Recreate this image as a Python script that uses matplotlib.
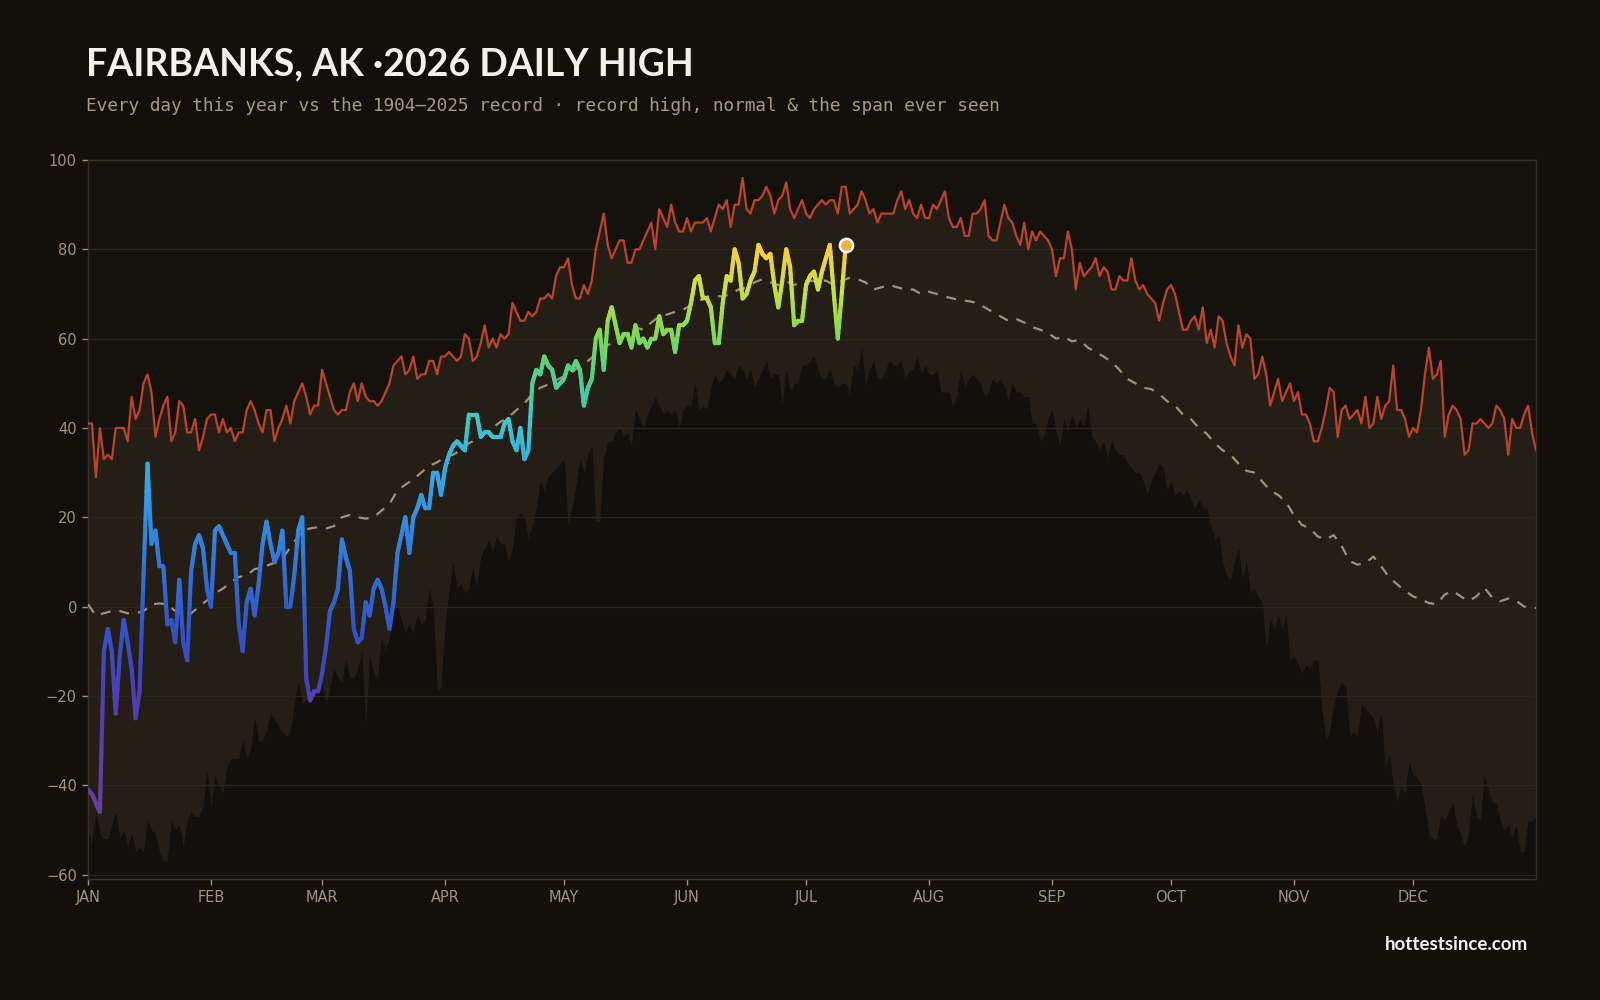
import matplotlib
matplotlib.use("Agg")
import matplotlib.pyplot as plt
import numpy as np
from matplotlib.collections import LineCollection
from matplotlib.colors import LinearSegmentedColormap, Normalize

# ---------------- DATA ----------------
month_days = [0, 31, 59, 90, 120, 151, 181, 212, 243, 273, 304, 334]
month_labels = ["JAN", "FEB", "MAR", "APR", "MAY", "JUN", "JUL", "AUG", "SEP", "OCT", "NOV", "DEC"]

# record high, day 0..365
rec_high = [
    41, 41, 29, 40, 33, 34, 33, 40, 40, 40,
    37, 47, 42, 44, 50, 52, 48, 38, 42, 45,
    47, 37, 39, 46, 45, 39, 39, 42, 35, 38,
    42, 43, 43, 39, 42, 39, 40, 37, 39, 39,
    44, 46, 44, 41, 39, 44, 44, 37, 40, 42,
    45, 41, 46, 48, 50, 47, 43, 45, 45, 53,
    50, 47, 44, 43, 44, 44, 48, 50, 46, 50,
    47, 46, 46, 45, 46, 48, 50, 54, 55, 56,
    52, 53, 56, 51, 52, 52, 55, 55, 52, 56,
    56, 57, 56, 55, 56, 61, 60, 55, 56, 59,
    63, 58, 60, 58, 61, 60, 61, 68, 66, 64,
    64, 66, 65, 66, 69, 69, 70, 69, 74, 76,
    76, 78, 72, 69, 69, 72, 70, 73, 80, 84,
    88, 81, 78, 80, 82, 82, 77, 77, 80, 80,
    82, 84, 86, 80, 89, 87, 85, 90, 86, 84,
    84, 87, 84, 86, 86, 86, 87, 84, 87, 90,
    89, 91, 85, 90, 90, 96, 89, 88, 91, 91,
    92, 94, 92, 88, 91, 92, 95, 89, 87, 89,
    91, 88, 87, 89, 90, 91, 90, 91, 91, 88,
    94, 94, 88, 89, 90, 93, 91, 88, 89, 86,
    88, 88, 88, 88, 91, 93, 89, 91, 88, 87,
    90, 87, 87, 90, 89, 91, 93, 87, 85, 85,
    87, 83, 83, 88, 88, 89, 91, 83, 82, 82,
    86, 90, 87, 86, 83, 81, 86, 80, 84, 82,
    84, 83, 82, 80, 74, 78, 78, 84, 80, 71,
    77, 74, 75, 76, 78, 74, 76, 75, 71, 71,
    74, 73, 73, 78, 73, 71, 72, 70, 69, 68,
    64, 68, 71, 72, 70, 66, 62, 62, 64, 65,
    62, 67, 59, 62, 58, 65, 64, 59, 56, 54,
    63, 58, 61, 60, 51, 52, 56, 52, 45, 48,
    51, 46, 48, 50, 46, 48, 43, 43, 41, 37,
    37, 40, 44, 49, 48, 38, 44, 45, 42, 43,
    44, 41, 47, 40, 41, 47, 42, 45, 46, 54,
    44, 44, 42, 38, 40, 39, 44, 52, 58, 51,
    52, 55, 38, 43, 45, 44, 42, 34, 35, 41,
    41, 42, 41, 40, 41, 45, 44, 42, 34, 42,
    40, 40, 43, 45, 39, 35,
]

# record low (the "span ever seen" lower edge), day 0..365
rec_low = [
    -50, -53, -46, -51, -52, -52, -49, -46, -52, -50,
    -54, -51, -55, -54, -55, -48, -50, -51, -55, -57,
    -57, -48, -50, -49, -54, -48, -46, -47, -47, -45,
    -37, -45, -38, -40, -42, -36, -34, -34, -34, -30,
    -34, -32, -25, -30, -30, -28, -24, -25, -27, -28,
    -29, -28, -22, -17, -22, -21, -21, -20, -19, -17,
    -22, -18, -14, -16, -17, -12, -16, -16, -14, -10,
    -27, -11, -15, -16, -7, -10, -7, 0, 0, -3,
    -6, -4, -6, -2, -4, -3, 4, 0, -19, -18,
    -5, 3, 10, 4, 5, 3, 4, 9, 4, 11,
    13, 15, 12, 16, 14, 14, 10, 13, 20, 21,
    20, 15, 18, 22, 28, 26, 29, 30, 31, 32,
    33, 18, 22, 27, 33, 30, 34, 36, 19, 19,
    33, 37, 37, 39, 40, 38, 39, 36, 44, 42,
    40, 43, 45, 47, 45, 43, 44, 43, 44, 40,
    44, 45, 45, 50, 44, 45, 44, 49, 52, 50,
    51, 53, 52, 51, 54, 53, 51, 53, 49, 51,
    53, 55, 51, 52, 52, 45, 53, 48, 50, 50,
    54, 54, 55, 56, 53, 51, 51, 53, 50, 49,
    50, 50, 47, 54, 53, 58, 49, 53, 55, 51,
    51, 53, 55, 54, 54, 55, 51, 53, 53, 56,
    52, 54, 52, 52, 53, 48, 48, 48, 45, 47,
    53, 49, 51, 52, 51, 50, 47, 48, 51, 50,
    51, 49, 46, 50, 48, 48, 47, 47, 41, 41,
    37, 38, 42, 44, 39, 36, 42, 39, 43, 40,
    42, 40, 45, 38, 37, 35, 37, 33, 37, 35,
    34, 34, 32, 31, 30, 30, 28, 25, 28, 30,
    32, 31, 26, 28, 25, 26, 25, 26, 24, 22,
    24, 22, 22, 18, 15, 16, 10, 7, 6, 10,
    13, 6, 10, 3, 4, 2, 1, -10, -3, -5,
    -2, -5, -2, -12, -11, -13, -15, -13, -14, -12,
    -12, -23, -30, -28, -22, -19, -17, -18, -29, -28,
    -29, -22, -23, -24, -25, -28, -24, -37, -33, -40,
    -44, -40, -42, -35, -38, -38, -40, -45, -51, -52,
    -52, -47, -48, -46, -44, -49, -51, -54, -51, -42,
    -47, -48, -38, -41, -44, -44, -48, -50, -49, -52,
    -49, -55, -55, -48, -48, -47,
]

# normal high, read every 2nd day
normal_days = list(range(0, 366, 2)) + [365]
normal_vals = [
    0.5, -2, -1.5, -1, -1, -1.5, -1.5, -1, 0.5, 0.7,
    0.5, -1, -2, -1.5, 0, 1.4, 3, 4, 5.5, 6.6,
    7, 8.4, 8.7, 9.5, 10, 12, 14.5, 17, 17.5, 17.8,
    17.5, 18, 20, 20.5, 20, 19.7, 20, 21.5, 23, 26,
    27.3, 28.5, 30, 31.5, 32.3, 33.5, 34, 35, 36.6, 37.4,
    38.7, 40, 41.4, 42.4, 44, 45.5, 47.6, 49, 49.7, 50.7,
    51.6, 52.4, 54, 55, 56.5, 58, 59, 60, 61, 62.5,
    62, 63.6, 65, 65.4, 66, 66.5, 67.5, 68.4, 69.4, 69.6,
    69.4, 70, 71, 71.5, 72.6, 73.3, 72.6, 72, 72.8, 72,
    72.8, 73, 72.8, 73, 72, 73, 73.6, 73.3, 72.6, 71,
    71.5, 72, 71.5, 71, 71, 70, 70.5, 70, 69.4, 69,
    68.6, 68.4, 68, 67, 66, 65, 64, 64.4, 63.6, 62.6,
    62, 61.3, 60, 60.4, 59.4, 59.7, 58, 57, 56, 54.8,
    53, 51, 50, 49, 48.7, 47.6, 46, 45, 43, 42,
    40, 38.7, 36.6, 35, 34, 32, 30.4, 30, 28, 26,
    25, 23.4, 20.4, 18.3, 17.5, 15.7, 15, 16, 13.6, 10.2,
    9.4, 9.7, 11.2, 9, 6.5, 5, 3.5, 2.3, 1.6, 0.8,
    0.5, 2.7, 3.5, 2.3, 1.2, 2.3, 4.2, 2, 1.2, 1.8,
    1.3, 0, -0.3, -0.3,
]

# 2026 daily high so far, day 0..191
high_2026 = [
    -41, -42, -44, -46, -10, -5, -10, -24, -11, -3,
    -8, -14, -25, -19, 7, 32, 14, 17, 9, 9,
    -4, -3, -8, 6, -8, -12, 8, 14, 16, 13,
    4, 0, 17, 18, 16, 14, 12, 12, -4, -10,
    1, 4, -2, 5, 14, 19, 14, 10, 12, 17,
    0, 0, 7, 17, 20, -16, -21, -19, -19, -15,
    -9, -1, 1, 4, 15, 11, 8, -5, -8, -7,
    1, -2, 4, 6, 4, 0, -5, 1, 12, 16,
    20, 12, 20, 22, 25, 22, 22, 30, 30, 25,
    31, 34, 36, 37, 36, 35, 43, 43, 43, 38,
    39, 39, 38, 38, 38, 41, 42, 37, 35, 40,
    33, 35, 50, 53, 52, 56, 54, 53, 49, 50,
    51, 54, 53, 55, 53, 45, 49, 51, 60, 62,
    53, 64, 67, 63, 59, 61, 61, 58, 63, 59,
    60, 58, 60, 60, 65, 61, 62, 62, 57, 63,
    63, 64, 68, 73, 74, 69, 69, 67, 59, 59,
    68, 74, 73, 80, 77, 69, 70, 73, 75, 81,
    79, 78, 79, 72, 67, 73, 80, 76, 63, 64,
    64, 72, 74, 75, 71, 75, 78, 81, 70, 60,
    70, 81,
]

# ---------------- STYLE ----------------
BG = "#13100c"
AX_BG = "#15120e"
BAND = "#241e16"
BELOW = "#12100d"
HIGH_C = "#bb4429"
NORM_C = "#a09279"
TICK_C = "#a39479"
SPINE_C = "#3a3228"
GRID_C = "#2b251c"

fig = plt.figure(figsize=(16, 10), dpi=100, facecolor=BG)
ax = fig.add_axes([0.055, 0.121, 0.905, 0.719])
ax.set_facecolor(AX_BG)

days = np.arange(len(rec_high))
ax.fill_between(days, rec_low, rec_high, color=BAND, lw=0, zorder=1)
ax.fill_between(days, -61, rec_low, color=BELOW, lw=0, zorder=1)

ax.plot(days, rec_high, color=HIGH_C, lw=1.6, zorder=3)
ax.plot(normal_days, normal_vals, color=NORM_C, lw=1.6, dashes=(4.5, 4), zorder=3)

# 2026 line coloured by temperature
cmap = LinearSegmentedColormap.from_list("temp", [
    (0.00, "#6c3d9e"),
    (0.20, "#4b40b4"),
    (0.31, "#3153c6"),
    (0.43, "#2f78dc"),
    (0.58, "#34a8e8"),
    (0.66, "#3cc5cf"),
    (0.75, "#4fd08a"),
    (0.83, "#8cdb4a"),
    (0.90, "#cde040"),
    (0.96, "#f3cf3f"),
    (1.00, "#f5ad3a"),
])
norm = Normalize(-46, 85)
x26 = np.arange(len(high_2026))
y26 = np.array(high_2026, dtype=float)
segs, cols = [], []
for i in range(len(x26) - 1):
    # split each day-to-day segment so the colour follows the value
    t = np.linspace(0, 1, 9)
    xs = x26[i] + t
    ys = y26[i] + (y26[i + 1] - y26[i]) * t
    for j in range(len(t) - 1):
        segs.append([(xs[j], ys[j]), (xs[j + 1], ys[j + 1])])
        cols.append(cmap(norm((ys[j] + ys[j + 1]) / 2)))
lc = LineCollection(segs, colors=cols, linewidths=3.0, capstyle="round", zorder=4)
ax.add_collection(lc)
ax.scatter([x26[-1]], [y26[-1]], s=90, color="#f2b13a", edgecolor="white",
           linewidth=1.8, zorder=5)

ax.set_xlim(0, 365)
ax.set_ylim(-61, 100)
ax.set_yticks(range(-60, 101, 20))
ax.set_xticks(month_days)
ax.set_xticklabels(month_labels)
ax.set_axisbelow("line")
ax.grid(axis="y", color=GRID_C, lw=0.9)
ax.grid(axis="x", visible=False)
for s in ax.spines.values():
    s.set_color(SPINE_C)
    s.set_linewidth(1.0)
ax.tick_params(colors=TICK_C, labelsize=10.5, length=4, width=1, pad=4)

fig.text(0.054, 0.936, "FAIRBANKS, AK \u00b72026 DAILY HIGH", color="#f3f0ea",
         fontsize=27, fontweight="bold", family="Lato", va="center", ha="left")
fig.text(0.054, 0.894,
         "Every day this year vs the 1904\u20132025 record \u00b7 record high, normal & the span ever seen",
         color="#a89a80", fontsize=12.8, family="DejaVu Sans Mono", va="center", ha="left")
fig.text(0.955, 0.056, "hottestsince.com", color="#f3f0ea", fontsize=13.5,
         fontweight="bold", family="Lato", va="center", ha="right")

fig.savefig("out.png", dpi=100, facecolor=BG)
